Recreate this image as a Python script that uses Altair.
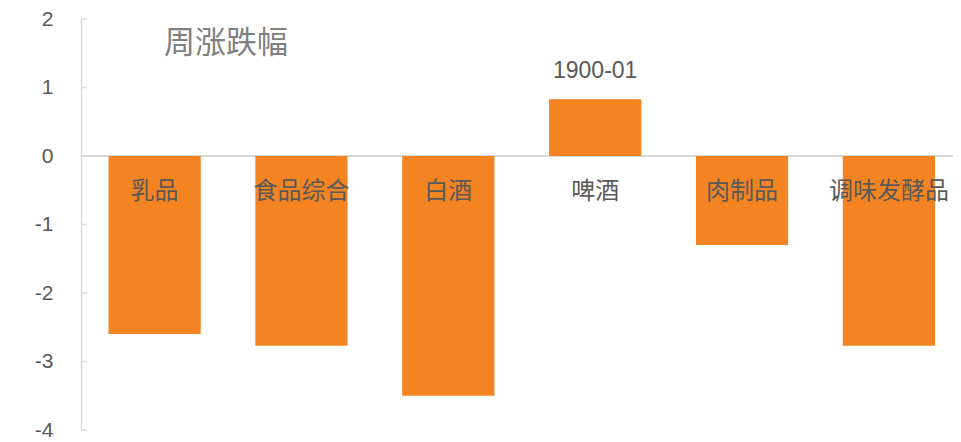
import altair as alt
import pandas as pd

categories = ["乳品", "食品综合", "白酒", "啤酒", "肉制品", "调味发酵品"]
values = [-2.6, -2.77, -3.5, 0.83, -1.3, -2.77]
value_labels = ["", "", "", "1900-01", "", ""]
y_ticks = [-4, -3, -2, -1, 0, 1, 2]
title_text = "周涨跌幅"

df = pd.DataFrame({"cat": categories, "val": values, "lab": value_labels})
ticks_df = pd.DataFrame({"t": y_ticks})
title_df = pd.DataFrame({"title": [title_text]})

W, H = 872, 411
GRAY = "#D9D9D9"
TXT = "#595959"

xenc = alt.X("cat:N", sort=categories, axis=None,
             scale=alt.Scale(paddingInner=0.372, paddingOuter=0, range=[27.5, 854]))
yscale = alt.Scale(domain=[-4, 2], nice=False, zero=False)

bars = alt.Chart(df).mark_bar(color="#F38421").encode(
    x=xenc,
    y=alt.Y("val:Q", scale=yscale,
            axis=alt.Axis(values=y_ticks, labelExpr="toString(datum.value)", ticks=False,
                          grid=False, domainColor=GRAY, domainWidth=1.5,
                          labelFont="Liberation Sans", labelFontSize=21, labelColor=TXT,
                          labelPadding=28, labelFlush=False, labelOverlap=False,
                          title=None)),
)

tick_marks = alt.Chart(ticks_df).mark_rule(color=GRAY, strokeWidth=1.5).encode(
    y=alt.Y("t:Q", scale=yscale),
    x=alt.value(0), x2=alt.value(6),
)

zero_line = alt.Chart(ticks_df).mark_rule(color=GRAY, strokeWidth=2).encode(
    y=alt.datum(0), x=alt.value(0), x2=alt.value(W),
)

cat_labels = alt.Chart(df).mark_text(dy=36, fontSize=24, font="Noto Sans CJK SC",
                                     color=TXT).encode(
    x=xenc, y=alt.datum(0), text="cat:N",
)

val_labels = alt.Chart(df).mark_text(dy=-28, fontSize=23, font="Liberation Sans",
                                     color=TXT).encode(
    x=xenc, y=alt.Y("val:Q", scale=yscale), text="lab:N",
)

title = alt.Chart(title_df).mark_text(align="left", baseline="middle", fontSize=31,
                                      font="Noto Sans CJK SC", color="#808080").encode(
    x=alt.value(83), y=alt.value(25), text="title:N",
)

chart = alt.layer(zero_line, bars, tick_marks, cat_labels, val_labels, title).properties(
    width=W, height=H,
    padding={"left": 73, "top": 11, "right": 0, "bottom": 12},
    autosize=alt.AutoSizeParams(type="none"),
).configure_view(stroke=None)

chart.save("out.html", embed_options={"renderer": "svg", "actions": False})
